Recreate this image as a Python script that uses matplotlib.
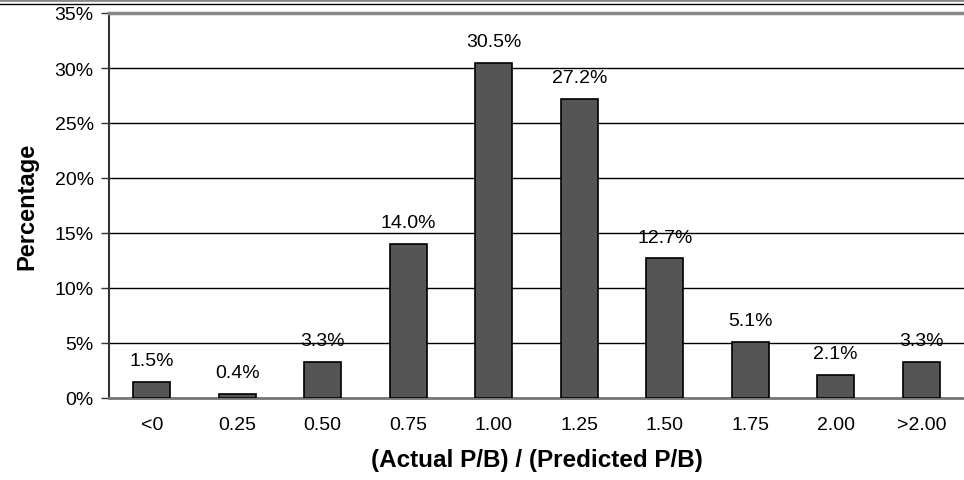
import matplotlib.pyplot as plt
from matplotlib.lines import Line2D
from matplotlib.ticker import FuncFormatter

plt.rcParams['font.family'] = ['Liberation Sans', 'DejaVu Sans']

categories = ['<0', '0.25', '0.50', '0.75', '1.00', '1.25', '1.50', '1.75', '2.00', '>2.00']
percent = [1.5, 0.4, 3.3, 14.0, 30.5, 27.2, 12.7, 5.1, 2.1, 3.3]
yticks = [0, 5, 10, 15, 20, 25, 30, 35]

fig = plt.figure(figsize=(9.64, 4.81), dpi=100)
ax = fig.add_axes([109 / 964, 1 - 399 / 481, 855 / 964, 385 / 481])

x = range(len(categories))
ax.bar(x, percent, width=0.43, color='#555555', edgecolor='black', linewidth=1.2, zorder=3)
for xi, v in zip(x, percent):
    ax.annotate(f'{v:.1f}%', (xi, v), xytext=(0, 9), textcoords='offset points',
                ha='center', va='bottom', fontsize=14)

ax.set_xlim(-0.5, len(categories) - 0.5)
ax.set_ylim(0, 35)
ax.set_yticks(yticks)
ax.yaxis.set_major_formatter(FuncFormatter(lambda v, p: f'{v:.0f}%'))
ax.set_xticks(list(x))
ax.set_xticklabels(categories)
ax.tick_params(axis='x', length=0, pad=13, labelsize=14)
ax.tick_params(axis='y', length=6, width=1, color='#333333', pad=5, labelsize=14)
ax.grid(axis='y', color='black', linewidth=1, zorder=0)

for s in ['top', 'right']:
    ax.spines[s].set_visible(False)
ax.spines['left'].set_color('#333333')
ax.spines['left'].set_linewidth(1.5)
ax.spines['bottom'].set_color('#777777')
ax.spines['bottom'].set_linewidth(2)
ax.axhline(35, color='#888888', linewidth=2.5, zorder=4, clip_on=False)

ax.set_xlabel('(Actual P/B) / (Predicted P/B)', fontsize=17.5, fontweight='bold', labelpad=11)
ax.set_ylabel('Percentage', fontsize=17, fontweight='bold', labelpad=12)

# frame lines at the top of the picture
fig.add_artist(Line2D([0, 1], [1 - 1 / 481, 1 - 1 / 481], color='#888888', linewidth=2, transform=fig.transFigure))
fig.add_artist(Line2D([0, 1], [1 - 4.5 / 481, 1 - 4.5 / 481], color='black', linewidth=1, transform=fig.transFigure))

fig.savefig('out.png', dpi=100)
